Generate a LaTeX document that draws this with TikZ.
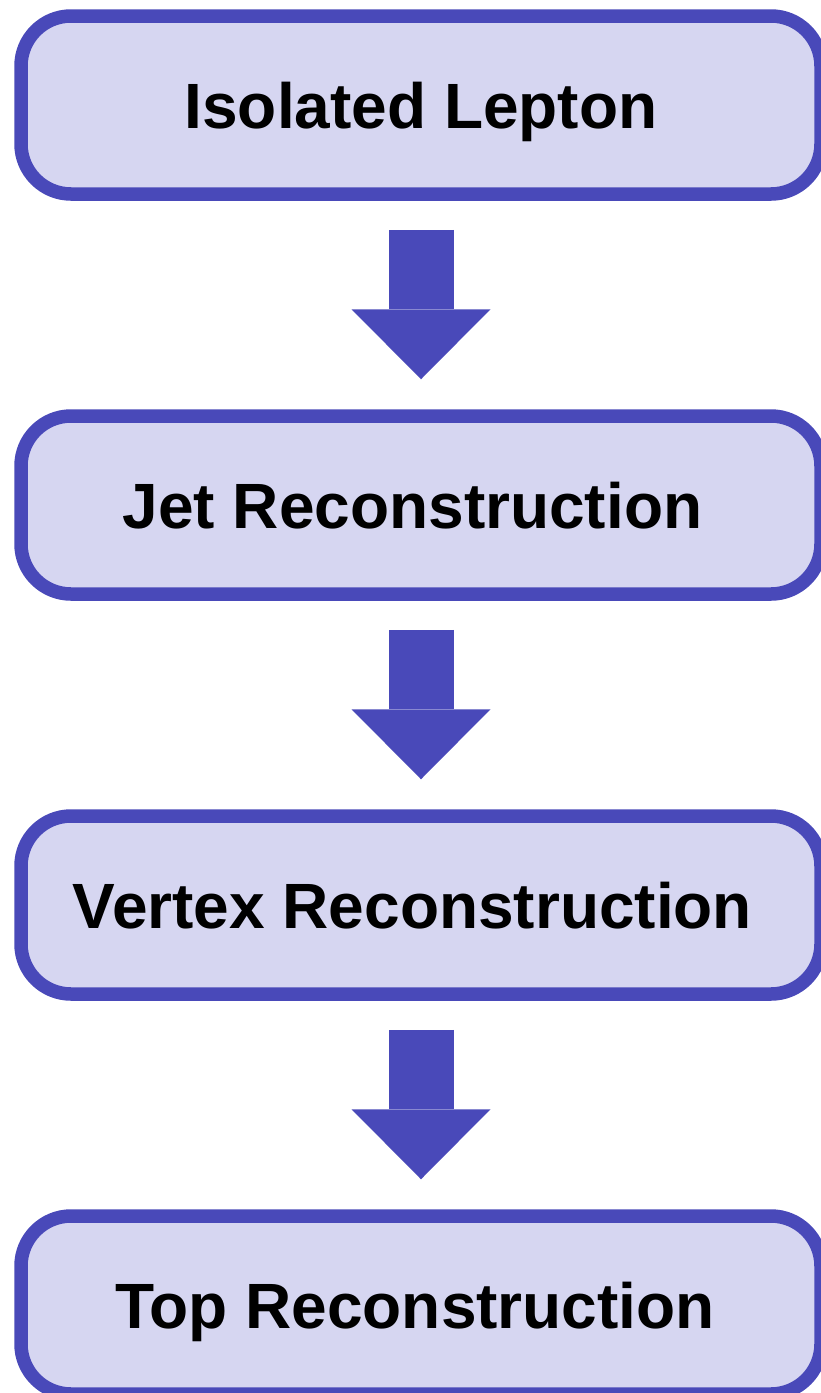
\documentclass[tikz,border=0pt]{standalone}
\usepackage{fontspec}
\setmainfont{Liberation Sans}
\usetikzlibrary{arrows.meta, calc}
\definecolor{moradoBorde}{HTML}{4949B9}
\definecolor{moradoFondo}{HTML}{D6D6F1}

\begin{document}
\begin{tikzpicture}[
  x=1pt, y=-1pt,
  % Estilos de nodos
  nodoPaso/.style={
    rectangle, rounded corners=50pt,
    draw=moradoBorde, fill=moradoFondo,
    line width=13.5pt, font=\bfseries\fontsize{64}{72}\selectfont,
    minimum width=800pt, minimum height=178pt,
    text height=46pt, text depth=0pt, inner sep=0pt
  },
  % Estilo de flechas
  flechaBloque/.style={
    draw=moradoBorde, line width=65pt,
    -{Triangle[length=70pt, width=139pt, line width=0pt]}
  }
]
\useasboundingbox (0,0) rectangle (820,1393);

% --- Pasos ---
\node[nodoPaso] (lepton) at (421, 105)  {Isolated Lepton};
\node[nodoPaso] (jets)   at (421, 505)  {Jet Reconstruction\kern17pt};
\node[nodoPaso] (vertex) at (421, 905)  {Vertex Reconstruction\kern17pt};
\node[nodoPaso] (top)    at (421, 1305) {Top Reconstruction\kern12pt};

% --- Flechas entre pasos ---
\draw[flechaBloque] ($(lepton.south)+(0,29)$) -- ($(jets.north)+(0,-30)$);
\draw[flechaBloque] ($(jets.south)+(0,29)$)   -- ($(vertex.north)+(0,-30)$);
\draw[flechaBloque] ($(vertex.south)+(0,29)$) -- ($(top.north)+(0,-30)$);

\end{tikzpicture}
\end{document}
